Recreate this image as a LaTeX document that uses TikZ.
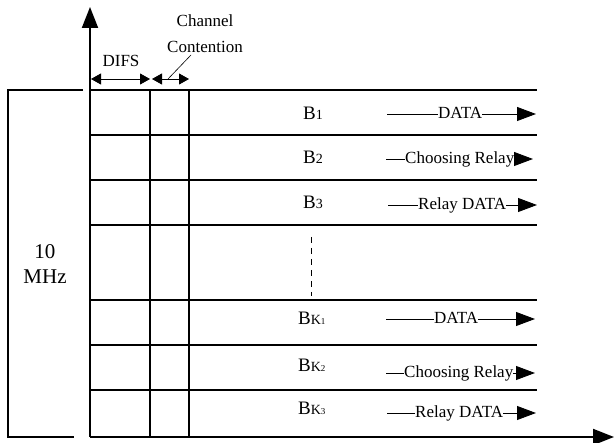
\documentclass[tikz,border=0pt]{standalone}
\usepackage{fontspec}
\setmainfont{Liberation Serif}
\usetikzlibrary{arrows.meta}
\begin{document}
\begin{tikzpicture}[x=1pt,y=-1pt,
  axisline/.style={line width=2pt,-{Triangle[length=21pt,width=16pt]}},
  gridline/.style={line width=1.6pt},
  bracketline/.style={line width=1.3pt},
  thinline/.style={line width=0.9pt},
  rowarrow/.style={line width=0.9pt,-{Triangle[length=19pt,width=14pt]}},
  dimarrow/.style={line width=0.9pt,{Triangle[length=10pt,width=11pt]}-{Triangle[length=10pt,width=11pt]}},
  atxt/.style={inner sep=0pt,font=\fontsize{17}{17}\selectfont},
  blab/.style={inner sep=0pt,font=\fontsize{19}{19}\selectfont},
  toplab/.style={inner sep=0pt,font=\fontsize{17}{17}\selectfont}]
\useasboundingbox (0,0) rectangle (614,443);
% axes
\coordinate (O) at (90,437);
\coordinate (ytop) at (90,7);
\coordinate (xend) at (614,437);
\draw[axisline] (O) -- (ytop);
\draw[axisline] (O) -- (xend);
% grid
\foreach \y in {90,135,180,225,300,345,390}
  \draw[gridline] (90,\y) -- (537,\y);
\foreach \x in {150,189}
  \draw[gridline] (\x,90) -- (\x,437);
% bracket
\draw[bracketline] (83,90) -- (8,90) -- (8,437) -- (74,437);
\node[inner sep=0pt,align=center,font=\fontsize{21}{25}\selectfont] (mhz) at (45,264) {10\\MHz};
% dashed
\draw[line width=0.9pt,dash pattern=on 6pt off 5pt] (311,237) -- (311,296);
% top labels
\node[toplab,anchor=base] (difs) at (121,67) {DIFS};
\node[toplab,anchor=base] (chan) at (205,27) {Channel};
\node[toplab,anchor=base] (cont) at (205,53) {Contention};
\coordinate (dL) at (91,79);
\coordinate (dR) at (150,79);
\coordinate (cL) at (152,79);
\coordinate (cR) at (189,79);
\draw[dimarrow] (dL) -- (dR);
\draw[dimarrow] (cL) -- (cR);
\coordinate (lead) at (168,79);
\draw[line width=0.6pt] (lead) -- (191,55);
% B labels
\node[blab,anchor=base west] (b1) at (303,120) {B{\fontsize{14}{14}\selectfont 1}};
\node[blab,anchor=base west] (b2) at (303,164) {B{\fontsize{14}{14}\selectfont 2}};
\node[blab,anchor=base west] (b3) at (303,209) {B{\fontsize{14}{14}\selectfont 3}};
\node[blab,anchor=base west] (bk1) at (298,325) {B{\fontsize{14}{14}\selectfont K{\fontsize{9}{9}\selectfont 1}}};
\node[blab,anchor=base west] (bk2) at (298,372) {B{\fontsize{14}{14}\selectfont K{\fontsize{9}{9}\selectfont 2}}};
\node[blab,anchor=base west] (bk3) at (298,415) {B{\fontsize{14}{14}\selectfont K{\fontsize{9}{9}\selectfont 3}}};
% row arrows
\node[atxt,anchor=base west] (t1) at (438,119) {DATA};
\coordinate (s1) at (387,114); \coordinate (e1) at (536,114);
\draw[thinline] (s1) -- (s1 -| t1.west);
\draw[rowarrow] (t1.east |- e1) -- (e1);
\node[atxt,anchor=base west] (t2) at (405,164) {Choosing Relay};
\coordinate (s2) at (386,159); \coordinate (e2) at (533,159);
\draw[thinline] (s2) -- (s2 -| t2.west);
\draw[rowarrow] (t2.east |- e2) -- (e2);
\node[atxt,anchor=base west] (t3) at (418,210) {Relay DATA};
\coordinate (s3) at (388,205); \coordinate (e3) at (537,205);
\draw[thinline] (s3) -- (s3 -| t3.west);
\draw[rowarrow] (t3.east |- e3) -- (e3);
\node[atxt,anchor=base west] (t4) at (434,324) {DATA};
\coordinate (s4) at (386,319); \coordinate (e4) at (535,319);
\draw[thinline] (s4) -- (s4 -| t4.west);
\draw[rowarrow] (t4.east |- e4) -- (e4);
\node[atxt,anchor=base west] (t5) at (404,378) {Choosing Relay};
\coordinate (s5) at (386,373); \coordinate (e5) at (535,373);
\draw[thinline] (s5) -- (s5 -| t5.west);
\draw[rowarrow] (t5.east |- e5) -- (e5);
\node[atxt,anchor=base west] (t6) at (415,418) {Relay DATA};
\coordinate (s6) at (387,413); \coordinate (e6) at (536,413);
\draw[thinline] (s6) -- (s6 -| t6.west);
\draw[rowarrow] (t6.east |- e6) -- (e6);
\end{tikzpicture}
\end{document}
